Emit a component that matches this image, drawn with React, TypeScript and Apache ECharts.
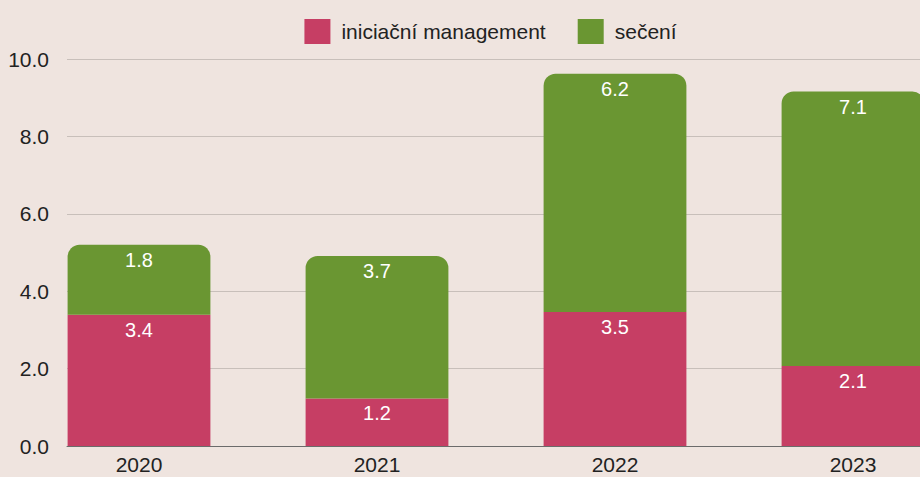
import React, { useEffect, useRef } from "react";
import * as echarts from "echarts";

const years = ["2020", "2021", "2022", "2023"];
const iniciacniManagement = [3.39, 1.23, 3.46, 2.07];
const seceni = [1.81, 3.68, 6.16, 7.09];
const seriesNames = ["iniciační management", "sečení"];
const yTicks = { min: 0, max: 10, interval: 2 };

export default function App() {
  const ref = useRef<HTMLDivElement>(null);
  useEffect(() => {
    if (!ref.current) return;
    const chart = echarts.init(ref.current, undefined, { renderer: "svg" });
    const font = "'Liberation Sans', Arial, sans-serif";
    chart.setOption({
      animation: false,
      backgroundColor: "#efe4df",
      textStyle: { fontFamily: font },
      legend: {
        top: 14,
        left: "center",
        itemWidth: 26,
        itemHeight: 25,
        itemGap: 32,
        icon: "rect",
        textStyle: { fontSize: 21, color: "#222", fontFamily: font, padding: [0, 0, 0, 6] },
        data: seriesNames,
      },
      grid: [
        { left: 20, right: 9, top: 59, bottom: 31 },
        { left: 67, right: 0, top: 59, bottom: 31 },
      ],
      xAxis: [
        {
          type: "category",
          gridIndex: 0,
          data: years,
          axisLine: { show: false },
          axisTick: { show: false },
          axisLabel: { fontSize: 21, color: "#222", margin: 8, fontFamily: font },
        },
        {
          type: "value",
          gridIndex: 1,
          min: 0,
          max: 1,
          axisLine: { show: true, onZero: false, lineStyle: { color: "#6b6b6b", width: 1 } },
          axisTick: { show: false },
          axisLabel: { show: false },
          splitLine: { show: false },
        },
      ],
      yAxis: [
        {
          type: "value",
          gridIndex: 0,
          min: yTicks.min,
          max: yTicks.max,
          interval: yTicks.interval,
          axisLabel: { show: false },
          axisLine: { show: false },
          axisTick: { show: false },
          splitLine: { show: false },
        },
        {
          type: "value",
          gridIndex: 1,
          min: yTicks.min,
          max: yTicks.max,
          interval: yTicks.interval,
          axisLine: { show: false },
          axisTick: { show: false },
          axisLabel: {
            fontSize: 21,
            color: "#222",
            margin: 18,
            fontFamily: font,
            formatter: (v: number) => v.toFixed(1),
          },
          splitLine: { show: true, lineStyle: { color: "#c8bfba", width: 1 } },
        },
      ],
      series: [
        {
          name: seriesNames[0],
          type: "bar",
          stack: "total",
          xAxisIndex: 0,
          yAxisIndex: 0,
          barWidth: "60%",
          data: iniciacniManagement,
          itemStyle: { color: "#c63e64" },
          label: {
            show: true,
            position: "insideTop",
            distance: 5,
            color: "#fff",
            fontSize: 20,
            fontFamily: font,
            formatter: (p: any) => Number(p.value).toFixed(1),
          },
        },
        {
          name: seriesNames[1],
          type: "bar",
          stack: "total",
          xAxisIndex: 0,
          yAxisIndex: 0,
          barWidth: "60%",
          data: seceni,
          itemStyle: { color: "#6a9632", borderRadius: [12, 12, 0, 0] },
          label: {
            show: true,
            position: "insideTop",
            distance: 5,
            color: "#fff",
            fontSize: 20,
            fontFamily: font,
            formatter: (p: any) => Number(p.value).toFixed(1),
          },
        },
      ],
    });
    return () => chart.dispose();
  }, []);
  return (
    <div style={{ position: "fixed", left: 0, top: 0, width: 920, height: 477, overflow: "hidden" }}>
      <div ref={ref} style={{ width: 981, height: 477 }} />
    </div>
  );
}
